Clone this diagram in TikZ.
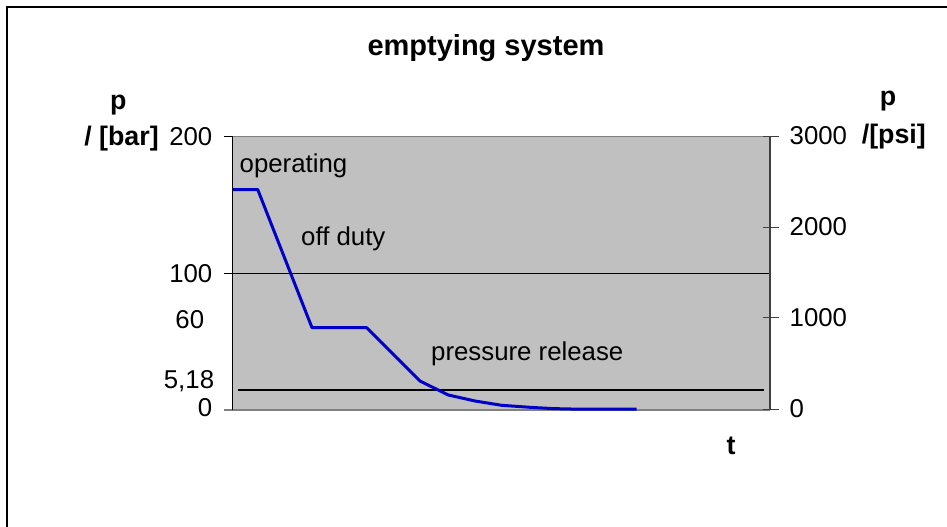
\documentclass[tikz,border=0pt]{standalone}
\usepackage{fontspec}
\setmainfont{Liberation Sans}
\definecolor{plotbg}{RGB}{192,192,192}
\definecolor{axgray}{RGB}{128,128,128}
\definecolor{axdark}{RGB}{64,64,64}
\definecolor{curveblue}{RGB}{0,0,200}
\tikzset{
  lbl/.style={inner sep=0pt, font=\fontsize{25.8}{30}\selectfont},
  blbl/.style={inner sep=0pt, font=\bfseries\fontsize{26.8}{31}\selectfont},
  ttl/.style={inner sep=0pt, font=\bfseries\fontsize{29}{34}\selectfont},
}
\begin{document}
\begin{tikzpicture}[x=1pt,y=-1pt]
\useasboundingbox (0,0) rectangle (947,527);
\clip (0,0) rectangle (947,527);
\fill[white] (0,0) rectangle (947,527);
% outer frame
\draw[black, line width=1.3pt] (7,540) -- (7,7) -- (960,7);
% plot area
\fill[plotbg] (232.5,136) rectangle (770,410);
\draw[axgray, line width=1pt] (232.5,136) -- (770,136);
\draw[axgray, line width=1.3pt] (224,410) -- (770,410);
% gridline 100
\draw[black, line width=1pt] (232.5,273) -- (770,273);
% 5,18 line
\draw[black, line width=2pt] (238,390) -- (764,390);
% left axis
\draw[black, line width=1.2pt] (232.5,136) -- (232.5,410);
\foreach \yy in {136,273} \draw[black, line width=1pt] (224,\yy) -- (232.5,\yy);
% right axis
\draw[axdark, line width=1.3pt] (770,136) -- (770,410);
\foreach \yy in {136,227.3,317.7,409.5} \draw[axdark, line width=1pt] (762.7,\yy) -- (779,\yy);
% curve
\draw[curveblue, line width=3pt, line join=round]
  (233,189.5) -- (257.7,189.5) -- (312,327.7) -- (366.7,327.7) -- (420,381)
  -- (448.3,395) -- (475,401) -- (501.7,405.3) -- (530,407.3) -- (553,408.6)
  -- (580,409.2) -- (636.7,409.2);
% title
\node[ttl, anchor=base] (title) at (486,56) {emptying system};
% left axis title
\node[blbl, anchor=base] (lp) at (118.3,109) {p};
\node[blbl, anchor=base] (lunit) at (121.5,145) {/ [bar]};
% right axis title
\node[blbl, anchor=base] (rp) at (888,105) {p};
\node[blbl, anchor=base] (runit) at (893.8,143) {/[psi]};
% left labels
\node[lbl, anchor=base east] (l200) at (212.5,145) {200};
\node[lbl, anchor=base east] (l100) at (212.5,282.3) {100};
\node[lbl, anchor=base east] (l60) at (204.3,328.3) {60};
\node[lbl, anchor=base east] (l518) at (214.3,388.3) {5,18};
\node[lbl, anchor=base east] (l0) at (212.5,416.7) {0};
% right labels
\node[lbl, anchor=base west] (r3000) at (789.5,144.5) {3000};
\node[lbl, anchor=base west] (r2000) at (789.5,235.5) {2000};
\node[lbl, anchor=base west] (r1000) at (789.5,326) {1000};
\node[lbl, anchor=base west] (r0) at (789.5,417.7) {0};
% phase labels
\node[lbl, anchor=base west] (op) at (239.5,172.7) {operating};
\node[lbl, anchor=base west] (off) at (301,245.5) {off duty};
\node[lbl, anchor=base west] (rel) at (431,360) {pressure release};
% time label
\node[blbl, anchor=base] (t) at (731,454) {t};
\end{tikzpicture}
\end{document}
